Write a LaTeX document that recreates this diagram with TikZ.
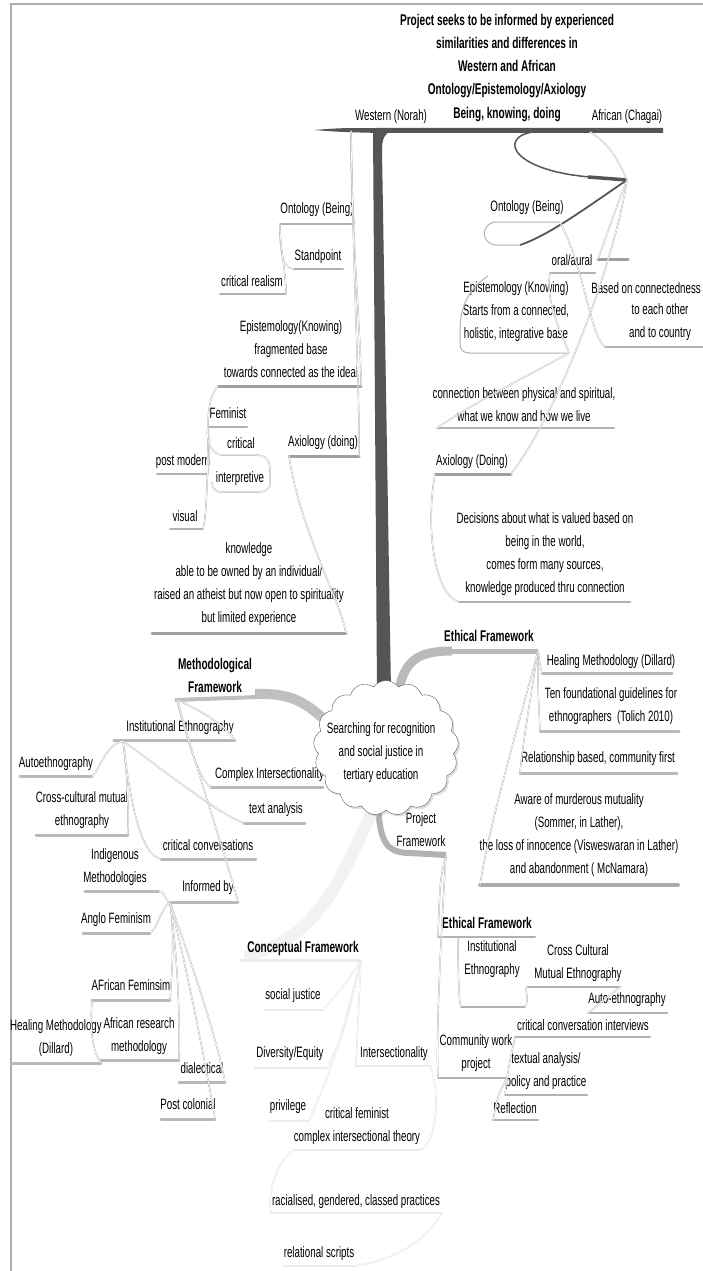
\documentclass[tikz,border=0pt]{standalone}
\usepackage{fontspec}
\setmainfont{Liberation Sans}[FakeStretch=0.65]
\usetikzlibrary{shapes.symbols,shadows}
\definecolor{dk}{HTML}{555555}
\newcommand\ulx[5]{\draw[#1] (#3,#5) coordinate (#2-l) -- (#4,#5) coordinate (#2-r);}
\begin{document}
\begin{tikzpicture}[x=1pt,y=-1pt,
  txt/.style={font=\fontsize{15}{23}\selectfont, inner sep=0pt, align=center},
  bold/.style={txt, font=\fontsize{15.5}{23}\selectfont\bfseries},
  ul/.style={draw=gray!60, line width=2pt, line cap=round},
  ulthree/.style={draw=gray!55, line width=3pt, line cap=round},
  ulfour/.style={draw=gray!65, line width=4pt, line cap=round},
  uldark/.style={draw=gray!75, line width=3pt, line cap=round},
  ullight/.style={draw=gray!15, line width=2pt, line cap=round},
  conn/.style={draw=gray!60, line width=0.4pt, double=white, double distance=0.7pt},
  connlight/.style={draw=gray!25, line width=0.4pt, double=white, double distance=0.7pt},
  outl/.style={draw=gray!60, line width=1pt},
]
\useasboundingbox (0,0) rectangle (703,1271);
\fill[white] (0,0) rectangle (703,1271);
\draw[gray!65, line width=2pt] (11,1271) -- (11,4) -- (703,4);

% ---------- title ----------
\node[bold] (title) at (507,56.5) {Project seeks to be informed by experienced\\similarities and differences in\\Western and African\\Ontology/Epistemology/Axiology};
\node[bold] (bkd) at (507,115) {Being, knowing, doing};
\node[txt] (west) at (391,117) {Western (Norah)};
\node[txt] (afr) at (627,117) {African (Chagai)};
\fill[dk] (314,130) .. controls (340,128) .. (380,128) -- (663,128) -- (663,133) -- (380,133) .. controls (340,132) .. (314,130) -- cycle;

% ---------- main branches (drawn below cloud) ----------
\fill[dk] (373,130) -- (377,692) -- (391,692) -- (382,150) .. controls (382,138) and (385,133) .. (392,131) -- cycle;
\draw[gray!50, line width=10pt] (333,728) .. controls (305,700) and (290,693) .. (255,694);
\draw[gray!50, line width=4pt] (258,697) -- (175,700);
\draw[gray!55, line width=9pt] (398,694) .. controls (404,660) and (418,651) .. (452,651);
\draw[gray!55, line width=5pt] (448,651) -- (538,651);
\draw[gray!60, line width=6pt] (378,805) .. controls (380,840) and (385,853) .. (410,853) -- (446,855);
\draw[gray!10, line width=12pt, line cap=round] (372,812) .. controls (340,880) and (320,935) .. (250,955);
\draw[gray!15, line width=3pt] (240,960) -- (361,960);
\coordinate (concr) at (361,960);
\coordinate (ethr) at (538,651);
\coordinate (methl) at (177,700);
\coordinate (pfr) at (446,855);

% ---------- Western ----------
\coordinate (wroot) at (351,131);
\node[txt] (wont) at (317,210) {Ontology (Being)}; \ulx{ul}{wontu}{280}{354}{224}
\node[txt] (wstand) at (318,257) {Standpoint}; \ulx{ul}{wstandu}{294}{343}{269}
\node[txt] (wcr) at (252,281) {critical realism}; \ulx{ul}{wcru}{220}{286}{294}
\node[txt] (wepi) at (291,349.5) {Epistemology(Knowing)\\fragmented base\\towards connected as the ideal}; \ulx{uldark}{wepiu}{218}{361}{386}
\node[txt] (wfem) at (228,413) {Feminist}; \ulx{ul}{wfemu}{208}{247}{427}
\node[txt] (wcrit) at (241,443) {critical};
\node[txt] (wpm) at (183,462) {post modern}; \ulx{ul}{wpmu}{157}{208}{474}
\node[txt] (wint) at (240,479) {interpretive};
\node[txt] (wvis) at (185,516) {visual}; \ulx{ul}{wvisu}{170}{203}{529}
\node[txt] (wax) at (323,443) {Axiology (doing)}; \ulx{uldark}{waxu}{289}{359}{456}
\node[txt] (wkn) at (249,584.5) {knowledge\\able to be owned by an individual/\\raised an atheist but now open to spirituality\\but limited experience}; \ulx{uldark}{wknu}{152}{346}{633}

\draw[conn] (wroot) .. controls (351,180) and (353,210) .. (wontu-r);
\draw[conn] (wroot) .. controls (352,250) and (361,330) .. (wepiu-r);
\draw[conn] (wroot) .. controls (354,300) and (360,400) .. (waxu-r);
\draw[conn] (wontu-l) .. controls (280,255) and (283,268) .. (wstandu-l);
\draw[conn] (wontu-l) .. controls (280,250) and (286,270) .. (wcru-r);
\draw[conn] (wepiu-l) .. controls (210,395) and (208,410) .. (wfemu-l);
\draw[conn] (wfemu-l) .. controls (210,450) and (208,465) .. (wpmu-r);
\draw[conn] (wfemu-l) .. controls (208,480) and (206,520) .. (wvisu-r);
\draw[conn] (wfemu-l) .. controls (205,440) and (212,455) .. (222,455) -- (255,455) .. controls (268,455) and (270,462) .. (270,472) -- (270,482) .. controls (270,490) and (265,492) .. (258,492) -- (220,492) .. controls (214,492) and (212,486) .. (212,482);
\draw[conn] (waxu-l) .. controls (300,530) and (340,600) .. (wknu-r);

% ---------- African ----------
\coordinate (aroot) at (627,180);
\draw[dk, line width=1.5pt] (545,131) .. controls (495,131) and (505,170) .. (590,177);
\draw[dk, line width=3.5pt] (588,177) -- (aroot);
\draw[conn] (590,132) .. controls (612,145) and (620,165) .. (aroot);
\node[txt] (aont) at (527,208) {Ontology (Being)};
\draw[dk, line width=1.8pt] (aroot) .. controls (590,205) and (550,235) .. (520,245);
\draw[outl] (520,245) -- (497,245) .. controls (480,245) and (480,222) .. (497,222) -- (560,222) coordinate (aontr);
\node[txt] (aoral) at (572,260) {oral/aural}; \ulx{ul}{aoralu}{550}{595}{273}
\draw[uldark] (598,259) coordinate (aorb) -- (628,259);
\node[txt, anchor=east] (acon) at (701,288) {Based on connectedness};
\node[txt] (acon2) at (660,322.5) {to each other\\and to country}; \ulx{ul}{aconu}{605}{703}{347}
\node[txt] (aepi) at (516,311.5) {Epistemology (Knowing)\\Starts from a connected,\\holistic, integrative base};
\draw[outl] (488,276) .. controls (470,288) and (460,305) .. (460,330) -- (460,343) .. controls (460,350) and (463,353) .. (470,353) -- (569,353) coordinate (aepir);
\node[txt] (aconn) at (524,404.5) {connection between physical and spiritual,\\what we know and how we live}; \ulx{ul}{aconnu}{437}{614}{428}
\node[txt] (aax) at (472,462) {Axiology (Doing)}; \ulx{uldark}{aaxu}{435}{511}{474}
\node[txt] (adec) at (545,554.5) {Decisions about what is valued based on\\being in the world,\\comes form many sources,\\knowledge produced thru connection}; \ulx{ul}{adecu}{459}{630}{602}

\draw[conn] (aontr) .. controls (585,270) and (590,335) .. (aconu-l);
\draw[conn] (aroot) .. controls (615,210) and (605,240) .. (aorb);
\draw[conn] (aoralu-l) .. controls (545,300) and (560,330) .. (aepir);
\draw[conn] (aepir) .. controls (520,380) and (470,405) .. (aconnu-l);
\draw[conn] (aroot) .. controls (615,260) and (560,410) .. (aaxu-r);
\draw[conn] (aaxu-l) .. controls (425,530) and (435,595) .. (adecu-l);

% ---------- Ethical (upper) ----------
\node[bold] (eth1) at (489,636) {Ethical Framework};
\node[txt] (hm) at (611,662) {Healing Methodology (Dillard)}; \ulx{ulthree}{hmu}{542}{672}{673}
\node[txt] (ten) at (611,706.5) {Ten foundational guidelines for\\ethnographers~~(Tolich 2010)}; \ulx{ulthree}{tenu}{540}{679}{731}
\node[txt] (rel) at (598,759) {Relationship based, community first}; \ulx{ulthree}{relu}{520}{677}{773}
\node[txt] (aw) at (579,835.5) {Aware of murderous mutuality\\(Sommer, in Lather),\\the loss of innocence (Visweswaran in Lather)\\and abandonment ( McNamara)}; \ulx{ulfour}{awu}{480}{678}{885}
\draw[conn] (ethr) .. controls (540,665) .. (hmu-l);
\draw[conn] (ethr) .. controls (538,690) .. (tenu-l);
\draw[conn] (ethr) .. controls (530,700) and (522,750) .. (relu-l);
\draw[conn] (ethr) .. controls (520,720) and (490,820) .. (awu-l);

% ---------- Methodological ----------
\node[bold] (meth) at (215,675) {Methodological\\Framework};
\node[txt] (ie) at (180,728) {Institutional Ethnography}; \ulx{ulthree}{ieu}{114}{235}{740}
\coordinate (iel) at (123,741);
\node[txt, anchor=west] (ci) at (215,775) {Complex Intersectionality}; \ulx{ulthree}{ciu}{211}{323}{787}
\node[txt] (ta) at (276,810) {text analysis}; \ulx{ulthree}{tau}{244}{305}{823}
\node[txt] (cc) at (208,845) {critical conversations}; \ulx{ulthree}{ccu}{161}{256}{859}
\node[txt] (auto) at (56,764) {Autoethnography}; \ulx{ulthree}{autou}{20}{92}{776}
\node[txt] (ccm) at (82,810) {Cross-cultural mutual\\ethnography}; \ulx{ulthree}{ccmu}{36}{128}{835}
\node[txt] (indig) at (115,867) {Indigenous\\Methodologies}; \ulx{ulthree}{indigu}{85}{159}{891}
\node[txt] (inf) at (208,888) {Informed by}; \ulx{ulthree}{infu}{170}{238}{902}
\node[txt] (anglo) at (116,920) {Anglo Feminism}; \ulx{ulthree}{anglou}{83}{150}{933}
\node[txt] (afem) at (131,985) {AFrican Feminsim}; \ulx{ulthree}{afemu}{92}{170}{1000}
\node[txt] (heal) at (56,1038.5) {Healing Methodology\\(Dillard)}; \ulx{ulthree}{healu}{11}{101}{1063}
\node[txt] (arm) at (139,1036) {African research\\methodology}; \ulx{ulthree}{armu}{100}{179}{1060}
\node[txt] (dia) at (202,1068) {dialectical}; \ulx{ulthree}{diau}{179}{225}{1082}
\node[txt] (pc) at (188,1104) {Post colonial}; \ulx{ulthree}{pcu}{161}{215}{1119}

\draw[conn] (methl) .. controls (200,710) and (225,725) .. (ieu-r);
\draw[conn] (iel) .. controls (105,745) and (100,770) .. (autou-r);
\draw[conn] (iel) .. controls (128,780) and (128,800) .. (ccmu-r);
\draw[conn] (iel) .. controls (130,800) and (140,855) .. (ccu-l);
\draw[conn] (iel) .. controls (170,775) and (220,815) .. (tau-l);
\draw[conn] (methl) .. controls (190,750) and (200,780) .. (ciu-l);
\draw[conn] (methl) .. controls (200,780) and (230,870) .. (infu-r);
\draw[conn] (indigu-r) .. controls (165,891) and (165,902) .. (infu-l);
\draw[conn] (infu-l) .. controls (160,910) and (158,928) .. (anglou-r);
\draw[conn] (infu-l) .. controls (175,940) and (172,970) .. (afemu-r);
\draw[conn] (infu-l) .. controls (178,960) and (180,1020) .. (armu-r);
\draw[conn] (infu-l) .. controls (190,960) and (215,1030) .. (diau-r);
\draw[conn] (infu-l) .. controls (185,960) and (205,1060) .. (pcu-r);
\draw[conn] (afemu-l) .. controls (90,1030) and (92,1050) .. (healu-r);

% ---------- Conceptual ----------
\node[bold] (conc) at (303,948) {Conceptual Framework};
\node[txt] (sj) at (293,996) {social justice}; \ulx{ullight}{sju}{264}{323}{1010}
\node[txt] (de) at (290,1054) {Diversity/Equity}; \ulx{ullight}{deu}{255}{327}{1068}
\node[txt] (priv) at (288,1107) {privilege}; \ulx{ullight}{privu}{269}{309}{1121}
\node[txt] (inter) at (394,1054) {Intersectionality}; \ulx{ullight}{interu}{356}{430}{1066}
\node[txt] (cf) at (357,1126) {critical feminist\\complex intersectional theory}; \ulx{ullight}{cfu}{294}{421}{1150}
\node[txt] (rac) at (356,1202) {racialised, gendered, classed practices}; \ulx{ullight}{racu}{271}{442}{1213}
\node[txt] (rs) at (319,1254) {relational scripts}; \ulx{ullight}{rsu}{283}{354}{1266}
\draw[connlight] (concr) .. controls (345,985) .. (sju-r);
\draw[connlight] (concr) .. controls (345,1030) .. (deu-r);
\draw[connlight] (concr) .. controls (335,1060) .. (privu-r);
\draw[connlight] (concr) .. controls (358,1020) .. (interu-l);
\draw[connlight] (interu-r) .. controls (440,1090) and (438,1140) .. (cfu-r);
\draw[connlight] (cfu-l) .. controls (272,1165) and (268,1200) .. (racu-l);
\draw[connlight] (racu-r) .. controls (430,1235) and (400,1260) .. (rsu-r);

% ---------- Project ----------
\node[txt] (pf) at (421,829.5) {Project\\Framework};
\node[bold] (eth2) at (487,923) {Ethical Framework}; \ulx{ul}{eth2u}{438}{535}{937}
\coordinate (eth2c) at (458,937);
\node[txt] (ie2) at (492,959) {Institutional\\Ethnography}; \ulx{ul}{ie2u}{461}{525}{1007}
\node[txt] (ccme) at (578,963) {Cross Cultural\\Mutual Ethnography}; \ulx{ul}{ccmeu}{527}{620}{987}
\node[txt] (ae) at (627,1000) {Auto-ethnography}; \ulx{ul}{aeu}{588}{667}{1013}
\node[txt] (cci) at (583,1025) {critical conversation interviews}; \ulx{ul}{cciu}{515}{650}{1037}
\node[txt] (cw) at (476,1053.5) {Community work\\project}; \ulx{ul}{cwu}{438}{507}{1078}
\node[txt] (tap) at (546,1071.5) {textual analysis/\\policy and practice}; \ulx{ul}{tapu}{505}{587}{1095}
\node[txt] (refl) at (515,1108) {Reflection}; \ulx{ul}{reflu}{493}{538}{1120}
\draw[conn] (pfr) .. controls (440,880) .. (eth2u-l);
\draw[conn] (pfr) .. controls (440,950) and (436,1040) .. (cwu-l);
\draw[conn] (eth2c) .. controls (458,990) and (460,1007) .. (ie2u-l);
\draw[conn] (ie2u-r) .. controls (530,1000) and (524,988) .. (ccmeu-l);
\draw[conn] (ccmeu-r) -- (aeu-l);
\draw[conn] (cwu-r) .. controls (510,1060) .. (cciu-l);
\draw[conn] (cwu-r) .. controls (506,1085) .. (tapu-l);
\draw[conn] (cwu-r) .. controls (498,1095) .. (reflu-l);

% ---------- central cloud ----------
\node[cloud, cloud puffs=17, cloud puff arc=110, aspect=1.05, draw=gray!70!black, fill=white, minimum width=145pt, minimum height=135pt, inner sep=0pt, drop shadow={opacity=0.25, shadow xshift=2pt, shadow yshift=-2pt}] (core) at (386,748) {};
\node[txt] (coretext) at (381,753) {Searching for recognition\\and social justice in\\tertiary education};
\end{tikzpicture}
\end{document}
